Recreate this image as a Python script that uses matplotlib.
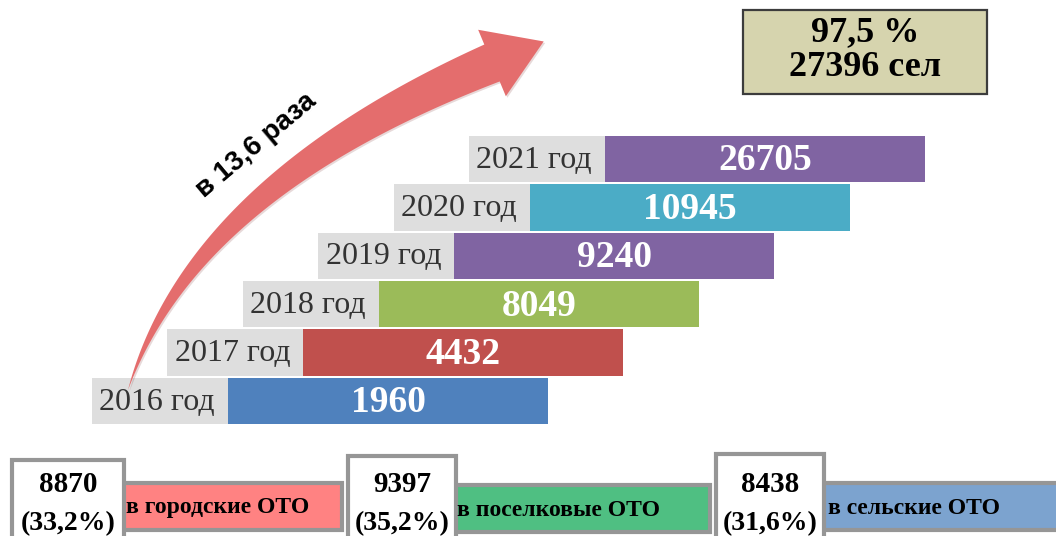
import numpy as np
import matplotlib
matplotlib.use("Agg")
import matplotlib.pyplot as plt
from matplotlib.patches import Rectangle, Polygon

# ---------------------------------------------------------------------------
# Data
# ---------------------------------------------------------------------------
YEARS      = [2016, 2017, 2018, 2019, 2020, 2021]
COUNTS     = [1960, 4432, 8049, 9240, 10945, 26705]
BAR_COLORS = ["#4f81bd", "#c0504d", "#9bbb59", "#8064a2", "#4bacc6", "#8064a2"]

GROWTH_LABEL = "в 13,6 раза"
TOTAL_PCT    = "97,5 %"
TOTAL_SEL    = 27396

KINDS        = ["в городские ОТО", "в поселковые ОТО", "в сельские ОТО"]
KIND_COUNTS  = [8870, 9397, 8438]
KIND_SHARES  = [33.2, 35.2, 31.6]
KIND_COLORS  = ["#ff8282", "#4fbf82", "#7ca3cf"]

# ---------------------------------------------------------------------------
# Layout (pixel space, y down)
# ---------------------------------------------------------------------------
W, H = 1056, 536
SERIF = ["Liberation Serif", "DejaVu Serif"]
SANS  = ["Liberation Sans", "DejaVu Sans"]

ROW_Y0, ROW_STEP, ROW_H = 401.0, 48.4, 46.5
BAR_X0, BAR_STEP, BAR_W = 228.0, 75.4, 320.0
GRAY_W = 136.0

fig = plt.figure(figsize=(W / 100, H / 100), dpi=100)
ax = fig.add_axes([0, 0, 1, 1])
ax.set_xlim(0, W)
ax.set_ylim(H, 0)
ax.axis("off")

idx = np.arange(len(YEARS))
yc = ROW_Y0 - idx * ROW_STEP
lefts = BAR_X0 + idx * BAR_STEP

# grey label plates + coloured bars
ax.barh(yc, GRAY_W, left=lefts - GRAY_W, height=ROW_H, color="#dedede", zorder=1)
ax.barh(yc, BAR_W, left=lefts, height=ROW_H, color=BAR_COLORS, zorder=2)

for y, x, yr, n in zip(yc, lefts, YEARS, COUNTS):
    ax.text(x - 13, y + 1, f"{yr} год", ha="right", va="center",
            fontsize=23, family=SERIF, color="#333333", zorder=3)
    ax.text(x + BAR_W / 2, y + 2, f"{n}", ha="center", va="center",
            fontsize=27, family=SERIF, fontweight="bold", color="white", zorder=3)

# ---------------------------------------------------------------------------
# Curved growth arrow
# ---------------------------------------------------------------------------
P0 = np.array([128.0, 390.0])
P1 = np.array([192.0, 188.0])
P2 = np.array([492.0, 63.0])
t = np.linspace(0, 1, 120)[:, None]
curve = (1 - t) ** 2 * P0 + 2 * (1 - t) * t * P1 + t ** 2 * P2
tang = 2 * (1 - t) * (P1 - P0) + 2 * t * (P2 - P1)
tang = tang / np.linalg.norm(tang, axis=1, keepdims=True)
norm = np.column_stack([-tang[:, 1], tang[:, 0]])
half = 20.0 * t[:, 0] ** 0.95
side_a = curve + norm * half[:, None]
side_b = curve - norm * half[:, None]
tend, nend = tang[-1], norm[-1]
tip = P2 + tend * 56
head_a = P2 + nend * 36
head_b = P2 - nend * 36
pts = np.vstack([side_a, head_a, tip, head_b, side_b[::-1]])

ax.add_patch(Polygon(pts + [1.5, 1.5], closed=True, color="#7a3030", alpha=0.18,
                     lw=0, zorder=4))
ax.add_patch(Polygon(pts, closed=True, color="#e46d6d", lw=0, zorder=5))

ax.text(256, 145, GROWTH_LABEL, rotation=40, ha="center", va="center",
        fontsize=20, family=SANS, fontweight="bold", color="black",
        rotation_mode="anchor", zorder=6)

# ---------------------------------------------------------------------------
# Total box (top right)
# ---------------------------------------------------------------------------
ax.add_patch(Rectangle((743, 10), 244, 84, facecolor="#d6d4ae",
                       edgecolor="#3c3c3c", lw=1.6, zorder=2))
ax.text(865, 33, TOTAL_PCT, ha="center", va="center", fontsize=26,
        family=SERIF, fontweight="bold", zorder=3)
ax.text(865, 67, f"{TOTAL_SEL} сел", ha="center", va="center", fontsize=26,
        family=SERIF, fontweight="bold", zorder=3)

# ---------------------------------------------------------------------------
# Breakdown boxes (bottom)
# ---------------------------------------------------------------------------
num_boxes = [(12, 460, 112), (348, 456, 108), (716, 454, 108)]
tag_boxes = [(120, 483, 222), (451, 485, 259), (822, 483, 240)]

for (nx, ny, nw), (tx, ty, tw), kind, cnt, share, col in zip(
        num_boxes, tag_boxes, KINDS, KIND_COUNTS, KIND_SHARES, KIND_COLORS):
    ax.add_patch(Rectangle((tx, ty), tw, 47, facecolor=col, edgecolor="#969696",
                           lw=3, zorder=2))
    ax.add_patch(Rectangle((nx, ny), nw, 90, facecolor="white", edgecolor="#969696",
                           lw=3, zorder=3))
    ax.text(nx + nw / 2, 485, f"{cnt}", ha="center", va="center", fontsize=21,
            family=SERIF, fontweight="bold", zorder=4)
    share_txt = f"({share:.1f}%)".replace(".", ",")
    ax.text(nx + nw / 2, 524, share_txt, ha="center", va="center", fontsize=20,
            family=SERIF, fontweight="bold", zorder=4)
    ax.text(tx + 6, ty + 25, kind, ha="left", va="center", fontsize=17,
            family=SERIF, fontweight="bold", zorder=4)

fig.savefig("out.png", dpi=100)
